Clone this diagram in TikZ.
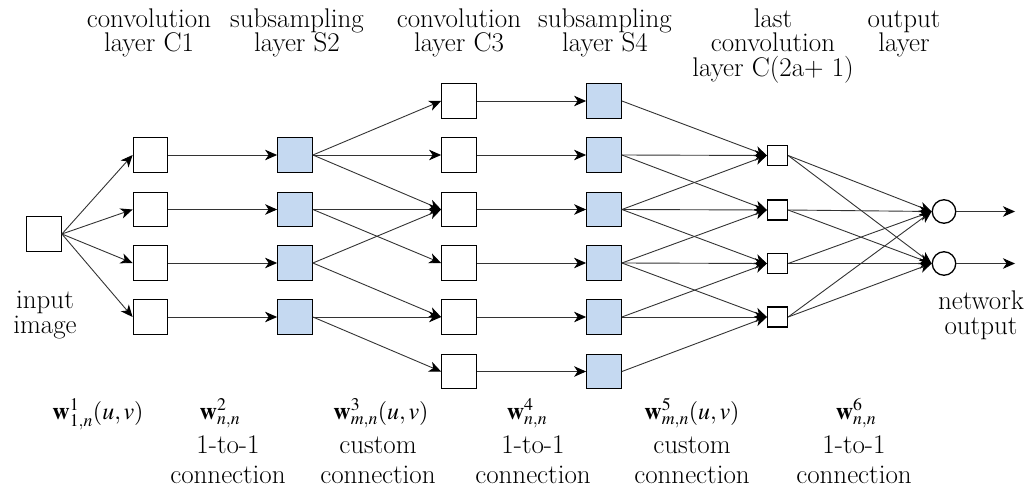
\documentclass[tikz,border=0pt]{standalone}
\usepackage{mathptmx}
\usetikzlibrary{arrows.meta}
\definecolor{boxblue}{HTML}{C5D9F1}
\definecolor{wiregray}{HTML}{333333}
\newcommand{\topfix}{\rule{0pt}{18.5pt}}
\begin{document}
\begin{tikzpicture}[x=1pt,y=-1pt,
  fmap/.style={draw=black,line width=1.3pt,minimum size=34.5pt,inner sep=0pt,fill=white},
  submap/.style={fmap,fill=boxblue},
  lastmap/.style={draw=black,line width=1.3pt,minimum size=20pt,inner sep=0pt,fill=white},
  outunit/.style={circle,draw=black,line width=1.3pt,minimum size=23.5pt,inner sep=0pt,fill=white},
  wire/.style={draw=wiregray,line width=0.9pt,-{Stealth[length=12pt,width=10.5pt,inset=3.5pt,color=black]}},
  toplabel/.style={font=\fontsize{27}{24.5}\selectfont,align=center,inner sep=0pt,anchor=north},
  sidelabel/.style={font=\fontsize{27}{25.5}\selectfont,align=center,inner sep=0pt,anchor=north},
  botlabel/.style={font=\fontsize{27}{30}\selectfont,align=center,inner sep=0pt,anchor=north},
  wlabel/.style={font=\fontsize{24}{28}\selectfont,inner sep=0pt,anchor=base}
]
\useasboundingbox (0,0) rectangle (1034,492);

% input
\node[fmap] (in) at (44,234) {};
% C1 and S2
\foreach \i/\y in {1/155,2/209.5,3/263,4/317}{
  \node[fmap] (c1\i) at (150.5,\y) {};
  \node[submap] (s2\i) at (295,\y) {};
}
% C3 and S4
\foreach \i/\y in {1/101,2/155,3/209.5,4/263,5/317,6/371.5}{
  \node[fmap] (c3\i) at (459,\y) {};
  \node[submap] (s4\i) at (604,\y) {};
}
% last convolution layer
\foreach \i/\y in {1/155.5,2/210,3/263.5,4/317}{
  \node[lastmap] (l\i) at (777.5,\y) {};
}
% output layer
\node[outunit] (o1) at (944,211.5) {};
\node[outunit] (o2) at (944,263.5) {};
\coordinate (e1) at (1015,211.5);
\coordinate (e2) at (1015,263.5);

% connections
\foreach \i in {1,2,3,4}{
  \draw[wire] (in.east) -- (c1\i.west);
  \draw[wire] (c1\i.east) -- (s2\i.west);
}
\foreach \a/\b in {1/1,1/2,1/3,2/3,2/4,3/3,3/5,4/5,4/6}{
  \draw[wire] (s2\a.east) -- (c3\b.west);
}
\foreach \i in {1,...,6}{
  \draw[wire] (c3\i.east) -- (s4\i.west);
}
\foreach \a/\b in {1/1,2/1,2/2,3/1,3/2,3/3,4/2,4/3,4/4,5/3,5/4,6/4}{
  \draw[wire] (s4\a.east) -- (l\b.west);
}
\foreach \i in {1,2,3,4}{
  \draw[wire] (l\i.east) -- (o1.west);
  \draw[wire] (l\i.east) -- (o2.west);
}
\draw[wire] (o1.east) -- (e1);
\draw[wire] (o2.east) -- (e2);

% top labels
\node[toplabel] (tc1) at (149,8.5) {\topfix convolution\\layer C1};
\node[toplabel] (ts2) at (297,8.5) {\topfix subsampling\\layer S2};
\node[toplabel] (tc3) at (459,8.5) {\topfix convolution\\layer C3};
\node[toplabel] (ts4) at (605,8.5) {\topfix subsampling\\layer S4};
\node[toplabel] (tlast) at (773,8.5) {\topfix last\\convolution\\layer C(2a+ 1)};
\node[toplabel] (tout) at (904,8.5) {\topfix output\\layer};

% side labels
\node[sidelabel] (tin) at (45,289.5) {\topfix input\\image};
\node[sidelabel] (tnet) at (981,290.5) {\topfix network\\output};

% weight labels
\node[wlabel] (w1) at (98,419) {$\mathbf{w}^{1}_{1,n}(u,v)$};
\node[wlabel] (w2) at (220,419) {$\mathbf{w}^{2}_{n,n}$};
\node[wlabel] (w3) at (381,419) {$\mathbf{w}^{3}_{m,n}(u,v)$};
\node[wlabel] (w4) at (527,419) {$\mathbf{w}^{4}_{n,n}$};
\node[wlabel] (w5) at (692,419) {$\mathbf{w}^{5}_{m,n}(u,v)$};
\node[wlabel] (w6) at (856,419) {$\mathbf{w}^{6}_{n,n}$};

% connection type labels
\node[botlabel] (k2) at (228,435) {\topfix 1-to-1\\connection};
\node[botlabel] (k3) at (378,435) {\topfix custom\\connection};
\node[botlabel] (k4) at (533,435) {\topfix 1-to-1\\connection};
\node[botlabel] (k5) at (692,435) {\topfix custom\\connection};
\node[botlabel] (k6) at (854,435) {\topfix 1-to-1\\connection};
\end{tikzpicture}
\end{document}
